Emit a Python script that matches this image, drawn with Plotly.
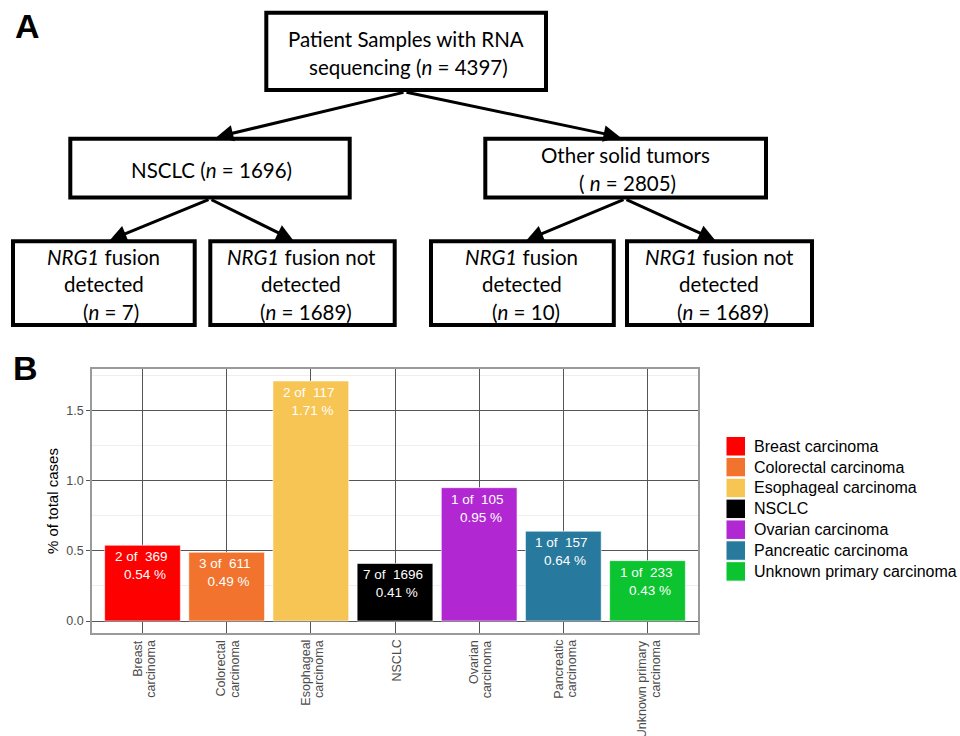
import plotly.graph_objects as go

# ---- Panel B data -------------------------------------------------------
categories = [
    "Breast carcinoma",
    "Colorectal carcinoma",
    "Esophageal carcinoma",
    "NSCLC",
    "Ovarian carcinoma",
    "Pancreatic carcinoma",
    "Unknown primary carcinoma",
]
tick_lines = [
    ["Breast", "carcinoma"],
    ["Colorectal", "carcinoma"],
    ["Esophageal", "carcinoma"],
    ["NSCLC"],
    ["Ovarian", "carcinoma"],
    ["Pancreatic", "carcinoma"],
    ["Unknown primary", "carcinoma"],
]
fusion_cases = [2, 3, 2, 7, 1, 1, 1]
total_cases = [369, 611, 117, 1696, 105, 157, 233]
colors = ["#FF0000", "#F1732E", "#F7C553", "#000000", "#B128D2", "#27799D", "#0BC430"]
pct = [round(100 * d / t, 2) for d, t in zip(fusion_cases, total_cases)]

# ---- Panel A data -------------------------------------------------------
n_total = 4397
n_nsclc = 1696
n_other = 2805
n_nsclc_pos, n_nsclc_neg = 7, 1689
n_other_pos, n_other_neg = 10, 1689

W, H = 960, 736


def px(x):
    return x / W


def py(y):
    return 1 - y / H


fig = go.Figure()

fig.add_trace(go.Bar(
    x=categories, y=pct, marker=dict(color=colors, line=dict(color="white", width=0.6)),
    width=0.9, showlegend=False, hoverinfo="skip",
))

shapes = []
annotations = []

# value labels inside the bars
for c, d, t, p in zip(categories, fusion_cases, total_cases, pct):
    annotations.append(dict(
        x=c, y=p, xref="x", yref="y", xanchor="center", yanchor="top", yshift=-2,
        text=f"{d} of  {t} <br> {p:.2f} %", showarrow=False,
        font=dict(family="Liberation Sans", size=13.5, color="white"),
    ))

# rotated category labels under the axis
for c, lines in zip(categories, tick_lines):
    k = len(lines)
    for j, line in enumerate(lines):
        off = (j - (k - 1) / 2) * 13.4 + 1.5
        annotations.append(dict(
            x=c, xref="x", y=py(638), yref="paper", xshift=off,
            xanchor="center", yanchor="top", textangle=-90,
            text=line, showarrow=False,
            font=dict(family="Liberation Sans", size=12.5, color="#4d4d4d"),
        ))

# y axis title
annotations.append(dict(
    x=px(52), y=py(501), xref="paper", yref="paper", textangle=-90,
    xanchor="center", yanchor="middle",
    text="% of total cases", showarrow=False,
    font=dict(family="Liberation Sans", size=15, color="black"),
))

# legend
leg_x, leg_y, sw, pitch = 726, 436.5, 19.5, 20.86
for i, (c, col) in enumerate(zip(categories, colors)):
    y0 = leg_y + i * pitch
    shapes.append(dict(
        type="rect", xref="paper", yref="paper",
        x0=px(leg_x), x1=px(leg_x + sw), y0=py(y0), y1=py(y0 + sw),
        fillcolor=col, line=dict(color="white", width=1),
    ))
    annotations.append(dict(
        x=px(752), y=py(y0 + sw / 2), xref="paper", yref="paper",
        xanchor="left", yanchor="middle", text=c, showarrow=False,
        font=dict(family="Liberation Sans", size=16, color="black"),
    ))

# ---- flowchart ----------------------------------------------------------
boxes = [
    (266.3, 12.7, 546, 90),
    (70.3, 138.7, 349.7, 197.5),
    (485.3, 138.7, 766, 197.5),
    (13, 241.3, 194.7, 325),
    (210.3, 241.3, 394.7, 325),
    (431, 241.3, 613.8, 325),
    (627, 241.3, 812, 325),
]
for x0, y0, x1, y1 in boxes:
    shapes.append(dict(
        type="rect", xref="paper", yref="paper",
        x0=px(x0), x1=px(x1), y0=py(y0), y1=py(y1),
        line=dict(color="black", width=4), fillcolor="rgba(0,0,0,0)",
    ))

flow_font = dict(family="Lato", size=20.5, color="black")
flow_text = [
    (405.7, 39, "Patient Samples with RNA"),
    (408.7, 67, f"sequencing (<i>n</i> = {n_total})"),
    (211, 170, f"NSCLC (<i>n</i> = {n_nsclc})"),
    (625.3, 155, "Other solid tumors"),
    (627, 183, f"( <i>n</i> = {n_other})"),
    (103.2, 256.7, "<i>NRG1</i> fusion"),
    (103.8, 284, "detected"),
    (110.5, 311.7, f"(<i>n</i> = {n_nsclc_pos})"),
    (301.3, 256.7, "<i>NRG1</i> fusion not"),
    (300.8, 284, "detected"),
    (305.5, 311.7, f"(<i>n</i> = {n_nsclc_neg})"),
    (521.5, 256.7, "<i>NRG1</i> fusion"),
    (521.7, 284, "detected"),
    (526, 311.7, f"(<i>n</i> = {n_other_pos})"),
    (719, 256.7, "<i>NRG1</i> fusion not"),
    (719, 284, "detected"),
    (722.8, 311.7, f"(<i>n</i> = {n_other_neg})"),
]
for x, y, t in flow_text:
    annotations.append(dict(
        x=px(x), y=py(y), xref="paper", yref="paper",
        xanchor="center", yanchor="middle", text=t, showarrow=False,
        font=flow_font,
    ))

arrows = [
    ((405, 92), (216.7, 137)),
    ((405, 92), (620, 137)),
    ((210, 199), (110, 240)),
    ((210, 199), (293, 240)),
    ((625, 199), (526.7, 240)),
    ((625, 199), (715, 240)),
]
for (sx, sy), (ex, ey) in arrows:
    annotations.append(dict(
        x=px(ex), y=py(ey), xref="paper", yref="paper",
        ax=sx - ex, ay=sy - ey, text="", showarrow=True,
        arrowhead=2, arrowsize=1.1, arrowwidth=3, arrowcolor="black",
        standoff=0, startstandoff=0,
    ))

# panel letters
for letter, lx, ly in [("A", 27, 26), ("B", 25, 368)]:
    annotations.append(dict(
        x=px(lx), y=py(ly), xref="paper", yref="paper", text=f"<b>{letter}</b>",
        xanchor="center", yanchor="middle", showarrow=False,
        font=dict(family="Liberation Sans", size=34, color="black"),
    ))

fig.update_layout(
    width=W, height=H, margin=dict(l=0, r=0, t=0, b=0),
    paper_bgcolor="white", plot_bgcolor="white",
    shapes=shapes, annotations=annotations, bargap=0.1,
    xaxis=dict(
        domain=[px(92), px(698)], range=[-0.6, 6.6],
        showticklabels=False, ticks="",
        showgrid=True, gridcolor="#555555", gridwidth=1,
        showline=True, mirror=True, linecolor="#9a9a9a", linewidth=1.5,
        fixedrange=True,
    ),
    yaxis=dict(
        domain=[py(633), py(369)], range=[-0.0855, 1.7955],
        tickvals=[0, 0.5, 1.0, 1.5], tickformat=".1f",
        ticks="outside", ticklen=4, tickcolor="#555555", tickwidth=1,
        tickfont=dict(family="Liberation Sans", size=12.5, color="#4d4d4d"),
        showgrid=True, gridcolor="#555555", gridwidth=1, zeroline=False,
        minor=dict(tickvals=[0.25, 0.75, 1.25, 1.75], showgrid=True,
                   gridcolor="#efefef", gridwidth=1, ticks=""),
        showline=True, mirror=True, linecolor="#9a9a9a", linewidth=1.5,
        fixedrange=True,
    ),
)

fig.write_html("out.html")
